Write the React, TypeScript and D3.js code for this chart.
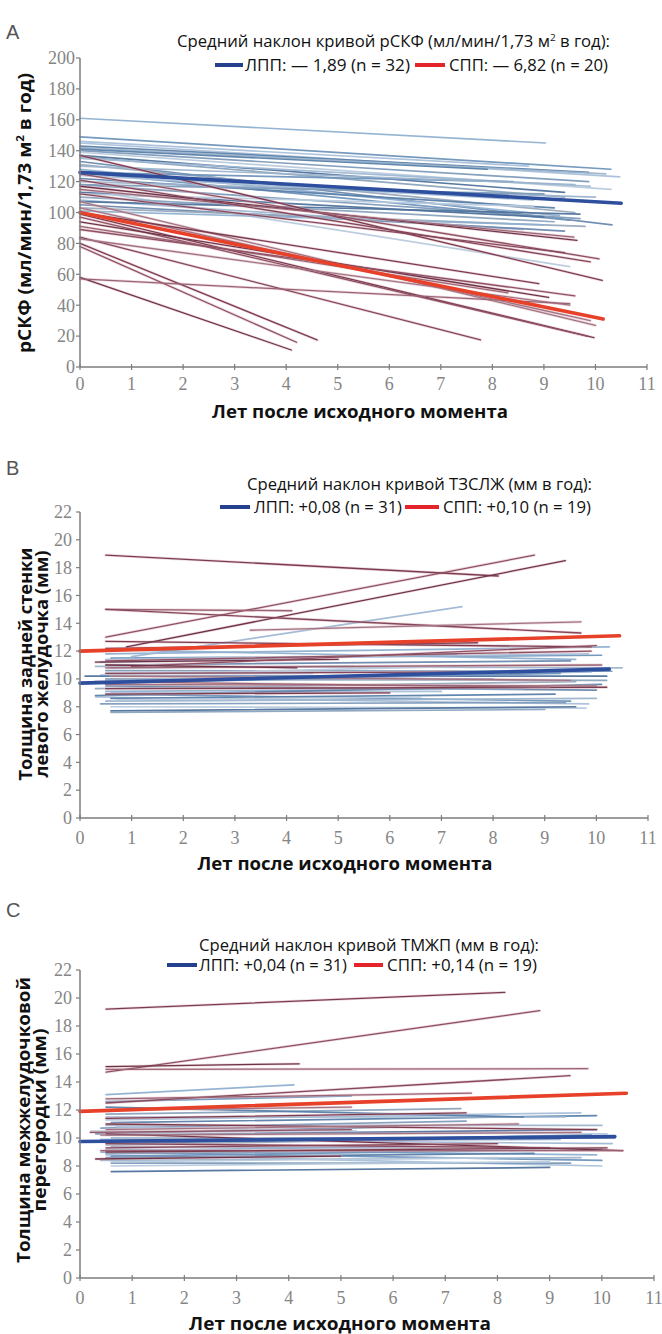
import React from 'react';
import * as d3 from 'd3';

// each segment: [years at start, value at start, years at end, value at end]
type Seg = [number, number, number, number];

const yearTicks = [0, 1, 2, 3, 4, 5, 6, 7, 8, 9, 10, 11];
const gfrTicks = [0, 20, 40, 60, 80, 100, 120, 140, 160, 180, 200];
const mmTicks = [0, 2, 4, 6, 8, 10, 12, 14, 16, 18, 20, 22];

// A: рСКФ
const gfrLpp: Seg[] = [
  [0, 161, 9.03, 145], [0, 149, 10.3, 128], [0, 145, 10.47, 123], [0, 143, 9.87, 126],
  [0, 142, 10.2, 125], [0, 140, 9.87, 120], [0, 139, 10.3, 115], [0, 137, 9.4, 113],
  [0, 136, 9.4, 110], [0, 135, 9.9, 117], [0, 133, 10.32, 92], [0, 131, 9.6, 100],
  [0, 128, 9.3, 98], [0, 126, 9.5, 95], [0, 124, 8.8, 108], [0, 122, 9.2, 103],
  [0, 120, 10.0, 110], [0, 118, 9.7, 96], [0, 115, 9.5, 65], [0, 113, 9.0, 97],
  [0, 110, 9.2, 94], [0, 108, 8.6, 89], [0, 105, 9.4, 88], [0, 103, 9.8, 91],
  [0, 101, 9.0, 92], [0, 126, 8.4, 120], [0, 146, 8.7, 130], [0, 141, 7.9, 128],
  [0, 130, 9.6, 118], [0, 118, 9.0, 112], [0, 112, 8.8, 104], [0, 107, 9.7, 99],
];
const gfrSpp: Seg[] = [
  [0, 137, 10.13, 56], [0, 125, 10.07, 70], [0, 117, 9.64, 82], [0, 115, 9.58, 84],
  [0, 121, 9.9, 68], [0, 107, 10.0, 27], [0, 99, 9.97, 19], [0, 97, 9.84, 20],
  [0, 94, 9.09, 45], [0, 91, 8.3, 48], [0, 84, 7.77, 17.5], [0, 83, 9.5, 40],
  [0, 80, 4.6, 17.5], [0, 78, 4.2, 16], [0, 58, 4.1, 11], [0, 57, 9.5, 41],
  [0, 112, 9.4, 74], [0, 103, 9.9, 30], [0, 100, 8.9, 54], [0, 89, 9.6, 46],
];
const gfrMeanLpp: Seg = [0, 126, 10.5, 106];
const gfrMeanSpp: Seg = [0, 100, 10.15, 31];

// B: ТЗСЛЖ
const pwLpp: Seg[] = [
  [0.5, 11.8, 10.25, 12.3], [0.6, 11.5, 10.1, 11.7], [0.5, 11.4, 9.85, 11.8], [0.4, 11.2, 7.3, 11.8],
  [0.3, 10.9, 10.5, 10.8], [0.5, 10.6, 10.3, 10.55], [0.4, 10.3, 7.4, 10.9], [0.1, 10.2, 10.2, 10.2],
  [0.5, 10.0, 10.2, 9.9], [0.3, 9.8, 9.9, 10.5], [0.5, 9.5, 10.0, 9.2], [0.3, 9.3, 9.6, 9.8],
  [0.5, 9.1, 8.6, 9.3], [0.5, 8.9, 9.5, 8.4], [0.3, 8.7, 9.85, 8.2], [0.6, 8.6, 9.2, 8.9],
  [0.5, 8.4, 10.0, 8.6], [0.4, 8.2, 9.4, 8.3], [0.6, 8.0, 9.8, 7.9], [0.6, 7.7, 9.6, 8.0],
  [0.6, 7.6, 9.0, 7.8], [1.0, 11.6, 7.4, 15.2], [0.5, 11.0, 9.5, 11.3], [0.6, 10.8, 5.3, 10.9],
  [0.5, 12.1, 9.6, 11.4], [0.5, 9.7, 9.3, 10.4], [0.6, 9.0, 7.0, 9.1], [0.3, 8.8, 10.1, 9.6],
  [0.5, 10.4, 4.5, 10.4], [0.5, 9.9, 8.0, 10.0], [0.7, 8.5, 6.6, 8.7],
];
const pwSpp: Seg[] = [
  [0.5, 18.9, 8.1, 17.4], [0.5, 13.0, 8.8, 18.9], [0.9, 12.3, 9.4, 18.5], [0.5, 15.0, 4.1, 14.9],
  [0.5, 15.0, 9.7, 13.3], [3.3, 13.5, 9.7, 14.1], [0.5, 12.7, 9.9, 12.3], [0.5, 11.3, 9.9, 12.0],
  [0.3, 11.2, 5.0, 11.4], [0.5, 10.8, 10.1, 11.0], [0.5, 10.4, 8.0, 10.5], [0.5, 9.6, 10.0, 9.5],
  [0.5, 9.3, 10.2, 9.4], [1.0, 10.9, 10.0, 12.4], [0.5, 11.0, 4.2, 10.8], [0.3, 9.8, 9.1, 9.4],
  [0.5, 12.2, 7.7, 12.6], [0.6, 10.2, 9.5, 9.9], [0.5, 8.9, 6.0, 9.0],
];
const pwMeanLpp: Seg = [0, 9.7, 10.25, 10.7];
const pwMeanSpp: Seg = [0, 12.0, 10.45, 13.1];

// C: ТМЖП
const ivsLpp: Seg[] = [
  [0.5, 13.1, 4.1, 13.8], [0.5, 12.6, 5.2, 13.0], [0.5, 11.3, 9.6, 11.8], [0.6, 11.1, 9.9, 11.6],
  [0.5, 10.9, 10.0, 10.9], [0.4, 10.7, 7.4, 11.2], [0.2, 10.5, 10.1, 10.3], [0.5, 10.2, 9.9, 10.6],
  [0.6, 10.0, 10.25, 10.0], [0.4, 9.9, 10.2, 9.6], [0.5, 9.6, 9.8, 10.2], [0.6, 9.4, 9.7, 9.2],
  [0.5, 9.2, 9.9, 8.8], [0.4, 9.0, 10.0, 8.4], [0.5, 8.8, 10.0, 8.0], [0.5, 8.6, 8.7, 8.9],
  [0.4, 8.4, 9.6, 8.6], [0.6, 8.2, 9.4, 8.2], [0.6, 8.0, 9.0, 8.3], [0.6, 7.6, 9.0, 7.9],
  [0.5, 11.7, 7.3, 12.1], [0.5, 11.5, 9.3, 11.5], [0.3, 10.3, 6.1, 10.8], [0.5, 9.5, 8.2, 10.0],
  [0.5, 9.1, 6.4, 9.4], [0.6, 8.7, 10.0, 9.2], [0.7, 10.8, 5.3, 10.5], [0.5, 12.2, 8.5, 11.5],
  [0.4, 9.8, 9.2, 9.9], [0.5, 8.9, 7.5, 9.1], [0.6, 8.3, 8.0, 8.6],
];
const ivsSpp: Seg[] = [
  [0.5, 19.2, 8.14, 20.4], [0.5, 14.7, 8.81, 19.1], [0.5, 15.1, 4.2, 15.3], [0.5, 14.9, 9.73, 14.95],
  [0.5, 12.5, 9.39, 14.45], [0.5, 12.0, 5.2, 12.2], [0.5, 11.4, 7.4, 11.8], [0.2, 10.4, 5.2, 10.6],
  [0.5, 10.3, 10.4, 9.1], [0.4, 9.1, 10.4, 9.1], [0.5, 9.3, 8.0, 9.6], [0.4, 10.2, 9.6, 10.4],
  [0.5, 11.0, 9.9, 10.6], [0.6, 9.8, 6.8, 9.9], [0.3, 8.5, 5.0, 8.7], [0.5, 12.8, 7.5, 13.2],
  [0.5, 9.6, 9.0, 9.3], [0.5, 10.6, 8.4, 11.0], [0.5, 9.0, 10.1, 9.3],
];
const ivsMeanLpp: Seg = [0, 9.75, 10.25, 10.1];
const ivsMeanSpp: Seg = [0, 11.9, 10.47, 13.2];

const blueShades = ['#8fb0d0', '#6f93ba', '#a9c0da', '#5a7fa9', '#9cb4cc', '#7e9bbb', '#b8cadd', '#4f729c', '#8aa3bd', '#a0b8d4', '#6a88ad', '#97a9bd'];
const redShades = ['#7c3c50', '#8e5063', '#6e3347', '#9a6474', '#85475b', '#a27483'];
const axisGrey = '#7d7d7d';
const labelGrey = '#858585';
const meanBlue = '#2d4f9e';
const meanRed = '#e8412a';
const swatchBlue = '#24408f';
const swatchRed = '#e4242b';

const sans = '"Open Sans", "Noto Sans", sans-serif';
const serif = '"Liberation Serif", "DejaVu Serif", serif';

const withSup = (s: string) =>
  s.split(/(²)/).map((part, i) =>
    part === '²' ? (
      <tspan key={i} baselineShift="super" fontSize="0.6em">2</tspan>
    ) : (
      <tspan key={i}>{part}</tspan>
    )
  );

const panels = [
  {
    letter: 'A', letterY: 39,
    x0: 80, x1: 647, yTop: 58, yBottom: 367, yMax: 200, yTicks: gfrTicks, xLab: 384, yLabR: 75,
    lpp: gfrLpp, spp: gfrSpp, meanLpp: gfrMeanLpp, meanSpp: gfrMeanSpp,
    yTitle: [{ text: 'рСКФ (мл/мин/1,73 м² в год)', base: 31, len: 280 }], yTitleC: 213,
    xTitleC: 360, xTitleY: 418, xTitleLen: 296,
    legTitle: 'Средний наклон кривой рСКФ (мл/мин/1,73 м² в год):', legTitleX: 177, legTitleLen: 433, legTitleY: 47,
    legY: 65, legB: [215, 243], legT1: ['ЛПП: — 1,89 (n = 32)', 245, 165], legR: [415, 445], legT2: ['СПП: — 6,82 (n = 20)', 449, 159],
  },
  {
    letter: 'B', letterY: 475,
    x0: 80, x1: 648, yTop: 512, yBottom: 818, yMax: 22, yTicks: mmTicks, xLab: 838, yLabR: 72,
    lpp: pwLpp, spp: pwSpp, meanLpp: pwMeanLpp, meanSpp: pwMeanSpp,
    yTitle: [
      { text: 'Толщина задней стенки', base: 32, len: 233 },
      { text: 'левого желудочка (мм)', base: 48, len: 227 },
    ], yTitleC: 664,
    xTitleC: 345, xTitleY: 870, xTitleLen: 295,
    legTitle: 'Средний наклон кривой ТЗСЛЖ (мм в год):', legTitleX: 247, legTitleLen: 345, legTitleY: 490,
    legY: 507, legB: [220, 250], legT1: ['ЛПП: +0,08 (n = 31)', 254, 148], legR: [405, 439], legT2: ['СПП: +0,10 (n = 19)', 443, 148],
  },
  {
    letter: 'C', letterY: 917,
    x0: 80, x1: 654, yTop: 970, yBottom: 1278, yMax: 22, yTicks: mmTicks, xLab: 1298, yLabR: 72,
    lpp: ivsLpp, spp: ivsSpp, meanLpp: ivsMeanLpp, meanSpp: ivsMeanSpp,
    yTitle: [
      { text: 'Толщина межжелудочковой', base: 30, len: 286 },
      { text: 'перегородки (мм)', base: 46, len: 183 },
    ], yTitleC: 1120,
    xTitleC: 340, xTitleY: 1330, xTitleLen: 302,
    legTitle: 'Средний наклон кривой ТМЖП (мм в год):', legTitleX: 199, legTitleLen: 340, legTitleY: 951,
    legY: 965, legB: [167, 197], legT1: ['ЛПП: +0,04 (n = 31)', 199, 148], legR: [354, 383], legT2: ['СПП: +0,14 (n = 19)', 387, 150],
  },
];

type PanelCfg = (typeof panels)[number];

function Panel({ p }: { p: PanelCfg }) {
  const x = d3.scaleLinear().domain([0, 11]).range([p.x0, p.x1]);
  const y = d3.scaleLinear().domain([0, p.yMax]).range([p.yBottom, p.yTop]);

  const seg = (s: Seg, key: string, stroke: string, w: number, op = 1) => (
    <line key={key} x1={x(s[0])} y1={y(s[1])} x2={x(s[2])} y2={y(s[3])}
      stroke={stroke} strokeWidth={w} strokeOpacity={op} strokeLinecap="round" />
  );

  return (
    <g>
      <text x={6} y={p.letterY} fontFamily='"Liberation Sans", sans-serif' fontSize={20} fill="#555">{p.letter}</text>

      <text x={p.legTitleX} y={p.legTitleY} fontFamily={sans} fontSize={15.5} fill="#111"
        textLength={p.legTitleLen} lengthAdjust="spacingAndGlyphs">{withSup(p.legTitle)}</text>
      <line x1={p.legB[0]} x2={p.legB[1]} y1={p.legY} y2={p.legY} stroke={swatchBlue} strokeWidth={4} />
      <text x={p.legT1[1] as number} y={p.legY + 5.5} fontFamily={sans} fontSize={15.5} fill="#111"
        textLength={p.legT1[2] as number} lengthAdjust="spacingAndGlyphs">{p.legT1[0]}</text>
      <line x1={p.legR[0]} x2={p.legR[1]} y1={p.legY} y2={p.legY} stroke={swatchRed} strokeWidth={4} />
      <text x={p.legT2[1] as number} y={p.legY + 5.5} fontFamily={sans} fontSize={15.5} fill="#111"
        textLength={p.legT2[2] as number} lengthAdjust="spacingAndGlyphs">{p.legT2[0]}</text>

      <g>
        {p.lpp.map((s, i) => seg(s, 'b' + i, blueShades[i % blueShades.length], 1.7, 0.95))}
      </g>
      <g>
        {p.spp.map((s, i) => seg(s, 'rh' + i, '#dcb3bd', 2.8, 0.5))}
        {p.spp.map((s, i) => seg(s, 'r' + i, redShades[i % redShades.length], 1.3))}
      </g>
      {seg(p.meanLpp, 'mb', meanBlue, 3.6)}
      {seg(p.meanSpp, 'mr', meanRed, 3.6)}

      {/* x axis */}
      <g>
        <line x1={x(0)} x2={x(11)} y1={p.yBottom} y2={p.yBottom} stroke={axisGrey} strokeWidth={1.5} />
        {yearTicks.map((t) => (
          <g key={t}>
            <line x1={x(t)} x2={x(t)} y1={p.yBottom - 3} y2={p.yBottom + 3} stroke={axisGrey} strokeWidth={1.2} />
            <text x={x(t)} y={p.xLab} dy="0.35em" textAnchor="middle" fontFamily={serif} fontSize={18} fill={labelGrey}>{t}</text>
          </g>
        ))}
      </g>
      {/* y axis */}
      <g>
        <line x1={p.x0} x2={p.x0} y1={p.yBottom} y2={p.yTop} stroke={axisGrey} strokeWidth={1.5} />
        {p.yTicks.map((t) => (
          <g key={t}>
            <line x1={p.x0 - 4} x2={p.x0} y1={y(t)} y2={y(t)} stroke={axisGrey} strokeWidth={1.2} />
            <text x={p.yLabR} y={y(t)} dy="0.35em" textAnchor="end" fontFamily={serif} fontSize={18} fill={labelGrey}>{t}</text>
          </g>
        ))}
      </g>

      <text x={p.xTitleC} y={p.xTitleY} textAnchor="middle" fontFamily={sans} fontWeight={700} fontSize={17}
        fill="#111" textLength={p.xTitleLen} lengthAdjust="spacingAndGlyphs">Лет после исходного момента</text>

      <g transform={`translate(0,${p.yTitleC}) rotate(-90)`}>
        {p.yTitle.map((t, i) => (
          <text key={i} x={0} y={t.base} textAnchor="middle" fontFamily={sans} fontWeight={700} fontSize={17}
            fill="#111" textLength={t.len} lengthAdjust="spacingAndGlyphs">{withSup(t.text)}</text>
        ))}
      </g>
    </g>
  );
}

export default function App() {
  return (
    <svg width={662} height={1334} style={{ position: 'absolute', left: 0, top: 0, background: '#fff' }}>
      {panels.map((p) => (
        <Panel key={p.letter} p={p} />
      ))}
    </svg>
  );
}
